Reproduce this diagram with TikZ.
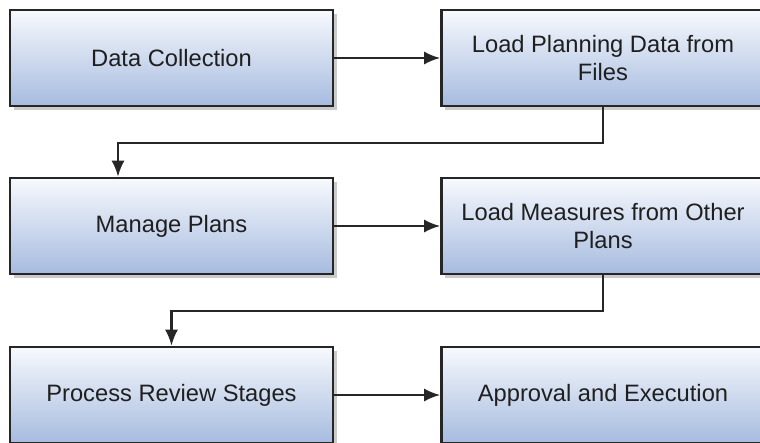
\documentclass[tikz,border=0pt]{standalone}
\usepackage{fontspec}
\setmainfont{Liberation Sans}
\usetikzlibrary{shapes}
\usetikzlibrary{arrows.meta}
\usetikzlibrary{shadows}
\definecolor{boxtop}{HTML}{F7F9FD}
\definecolor{boxbot}{HTML}{A6BBDF}
\definecolor{edge}{HTML}{262626}
\tikzset{
  stage/.style={draw=edge,line width=2.6pt,rectangle,minimum width=323pt,minimum height=96pt,
    top color=boxtop,bottom color=boxbot,align=center,text=black!88,
    font=\fontsize{23.7}{27.5}\selectfont,
    drop shadow={shadow xshift=3.5pt,shadow yshift=-3.5pt,opacity=.45,fill=black!45}},
  flow/.style={draw=edge,line width=2.2pt,-{Latex[length=16pt,width=13pt]}}
}
\begin{document}
\begin{tikzpicture}[x=1pt,y=-1pt]
\useasboundingbox[fill=white] (0,0) rectangle (760,442);
\node[stage] (DC)at(171.5,58) {Data Collection};
\node[stage] (LP)at(603,58) {Load Planning Data from\\Files};
\node[stage] (MP)at(171.5,226) {Manage Plans};
\node[stage] (LM)at(603,226) {Load Measures from Other\\Plans};
\node[stage] (PR)at(171.5,395) {Process Review Stages};
\node[stage] (AE)at(603,395) {Approval and Execution};
\draw[flow] (DC) -- (LP);
\draw[flow] (MP) -- (LM);
\draw[flow] (PR) -- (AE);
\draw[flow] (LP.south) -- ++(0,36) -| ([xshift=-53.5pt]MP.north);
\draw[flow] (LM.south) -- ++(0,36) -| (PR.north);
\end{tikzpicture}
\end{document}
